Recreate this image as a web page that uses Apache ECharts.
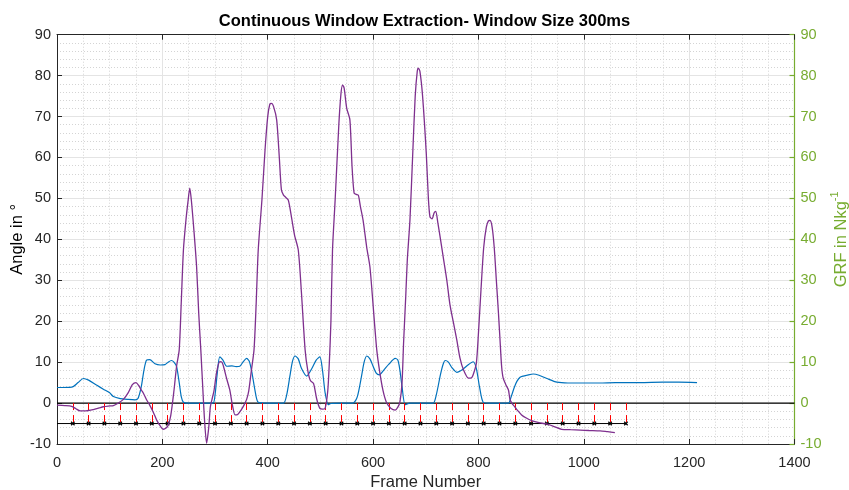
<!DOCTYPE html>
<html>
<head>
<meta charset="utf-8">
<script src="https://cdn.jsdelivr.net/npm/echarts@6/dist/echarts.min.js"></script>
<style>html,body{margin:0;padding:0;background:#fff}#chart{width:849px;height:490px}</style>
</head>
<body>
<div id="chart"></div>
<script>
// GRF (right axis) - frame numbers and values
const grfFrames = [0, 28, 40, 50, 60, 75, 88, 100, 107, 120, 135, 148, 154, 160, 165, 170, 176, 186, 196, 205, 211, 217, 222, 227, 232, 236, 240, 250, 270, 296, 300, 304, 309, 315, 322, 332, 340, 347, 354, 360, 365, 370, 376, 382, 400, 430, 436, 442, 447, 452, 458, 464, 474, 484, 492, 499, 504, 509, 515, 520, 540, 562, 570, 578, 583, 588, 594, 600, 606, 612, 620, 630, 642, 647, 651, 655, 661, 670, 690, 714, 720, 728, 733, 737, 743, 750, 759, 770, 780, 790, 796, 802, 809, 820, 840, 857, 862, 868, 873, 879, 885, 892, 904, 915, 930, 949, 970, 1000, 1030, 1060, 1107, 1150, 1180, 1215];
const grfValues = [3.8, 3.9, 5.0, 6.0, 5.6, 4.4, 3.4, 2.5, 1.6, 1.1, 0.9, 0.8, 1.2, 4, 8, 10.5, 10.6, 9.6, 9.3, 9.4, 10.0, 10.4, 10.0, 8.9, 5, 1.5, 0.2, 0, 0, 0, 2, 7, 11.3, 10.5, 9.0, 9.1, 8.9, 9.0, 10.2, 10.9, 10.2, 7.5, 3, 0.2, 0, 0, 2, 6.5, 10.2, 11.5, 10.8, 8.5, 6.6, 8.5, 10.5, 11.3, 8, 2.5, -0.4, -0.1, 0, 0, 1.5, 6.5, 10, 11.5, 10.8, 9, 7.3, 6.9, 8, 9.5, 10.9, 10.5, 8, 4, -0.4, 0, 0, 0, 2, 7, 9.5, 10.4, 10.0, 8.6, 7.5, 8.2, 9.3, 10.1, 8.5, 4, 0.2, 0, 0, 0, 1.5, 3.8, 5.3, 6.3, 6.6, 6.8, 7.1, 6.8, 6.0, 5.1, 4.9, 4.9, 4.9, 5.0, 5.0, 5.1, 5.1, 5.0];

// Angle (left axis) - frame numbers and values
const angleFrames = [0, 15, 28, 36, 44, 55, 69, 80, 88, 100, 107, 115, 126, 135, 143, 150, 155, 160, 164, 170, 176, 183, 189, 196, 202, 207, 211, 216, 222, 227, 232, 236, 240, 245, 249, 252, 255, 260, 265, 269, 273, 277, 280, 284, 288, 291, 294, 298, 303, 309, 313, 316, 322, 328, 333, 338, 343, 350, 355, 360, 364, 369, 374, 378, 382, 389, 395, 400, 404, 407, 411, 417, 422, 426, 430, 433, 439, 445, 451, 458, 464, 471, 476, 481, 487, 493, 499, 504, 509, 514, 517, 520, 523, 528, 535, 539, 542, 545, 550, 556, 560, 564, 568, 572, 576, 581, 588, 594, 600, 607, 613, 619, 626, 634, 642, 647, 651, 655, 658, 662, 665, 670, 675, 680, 684, 686, 689, 694, 701, 705, 708, 712, 716, 719, 723, 728, 734, 740, 746, 752, 759, 765, 772, 781, 787, 790, 796, 800, 805, 810, 815, 819, 822, 826, 830, 834, 838, 841, 844, 847, 852, 857, 860, 865, 869, 875, 882, 890, 901, 915, 929, 945, 958, 975, 993, 1010, 1031, 1045, 1059];
const angleValues = [-0.5, -0.6, -0.8, -1.4, -1.9, -1.9, -1.6, -1.2, -0.9, -0.7, -0.6, -0.1, 0.9, 2.5, 4.5, 5.0, 4.3, 3.2, 2.4, 0.8, -0.5, -2.3, -4.1, -5.6, -6.4, -6.1, -5.4, -3, 3, 9, 13, 25, 37.4, 45, 49.6, 52.5, 49.6, 42, 33.3, 22, 13, 3, -4, -9.8, -6, -1, 0.8, 3, 7.5, 10.1, 10.0, 9, 6, 3.2, -0.5, -2.9, -2.8, -1.6, -0.5, 0.9, 3, 8, 13, 24, 37.4, 49.6, 62, 70, 73, 73.2, 72.5, 69.2, 60, 52.1, 50.8, 50.4, 49.6, 45.5, 41, 37.4, 27, 13, 8, 5.5, 4.8, 1, -1.3, -1.5, -1.3, 3, 10, 20, 37.4, 49.6, 68, 75.5, 77.7, 77, 72, 69.2, 58, 51.3, 51, 50.8, 48, 44.7, 38, 33.3, 24, 13, 7.3, 3, 0, -1.3, -1.7, -1, 0.3, 5, 15, 26, 35, 44.7, 60, 75, 81.2, 81.8, 81, 75, 61, 50, 45.5, 45, 46.5, 46.8, 44, 40, 35, 30, 24, 20, 15.4, 11, 8, 6.1, 6.2, 6.9, 9.7, 17, 28, 38, 43, 44.5, 44.6, 43, 38, 30, 22, 15.4, 9, 6.1, 4.5, 3.2, 0.8, -0.3, -0.9, -1.9, -2.9, -3.6, -4.3, -4.8, -5.1, -5.8, -6.4, -6.5, -6.6, -6.7, -6.8, -7.0, -7.2];

// Window boundaries (frames) marked along y = -5
const windowFrames = [30, 60, 90, 120, 150, 180, 210, 240, 270, 300, 330, 360, 390, 420, 450, 480, 510, 540, 570, 600, 630, 660, 690, 720, 750, 780, 810, 840, 870, 900, 930, 960, 990, 1020, 1050, 1080];
const windowLevel = -5;
const zeroLevel = 0;

const xTicks = { min: 0, max: 1400, interval: 200 };
const yTicks = { min: -10, max: 90, interval: 10 };

const FONT = 'Liberation Sans, Arial, Helvetica, sans-serif';
const DARK = '#262626';
const GREEN = '#77AC30';
const TICK_FS = 14.5;
const NAME_FS = 16.5;

const chart = echarts.init(document.getElementById('chart'), null, { renderer: 'canvas' });

const zip = (xs, ys) => xs.map((x, i) => [x, ys[i]]);
const plain = v => String(v);

const option = {
  animation: false,
  backgroundColor: '#fff',
  title: {
    text: 'Continuous Window Extraction- Window Size 300ms',
    left: 'center', top: 8,
    textStyle: { fontSize: NAME_FS, fontWeight: 'bold', color: '#000', fontFamily: FONT }
  },
  grid: { left: 57, right: 54.5, top: 34.7, bottom: 46, containLabel: false, outerBoundsMode: 'none' },
  xAxis: [
    {
      type: 'value', position: 'bottom', min: xTicks.min, max: xTicks.max, interval: xTicks.interval,
      name: 'Frame Number', nameLocation: 'middle', nameGap: 30, nameMoveOverlap: false,
      nameTextStyle: { fontSize: NAME_FS, color: DARK, fontFamily: FONT },
      axisLine: { show: true, onZero: false, lineStyle: { color: DARK, width: 1 } },
      axisTick: { show: true, inside: true, length: 5, lineStyle: { color: DARK } },
      axisLabel: { fontSize: TICK_FS, color: DARK, margin: 11, fontFamily: FONT, formatter: plain },
      splitLine: { show: true, lineStyle: { color: '#e4e4e4', width: 1 } },
      minorTick: { show: false, splitNumber: 4 },
      minorSplitLine: { show: true, lineStyle: { color: '#d4d4d4', width: 1, type: [1, 2] } }
    },
    {
      type: 'value', position: 'top', min: xTicks.min, max: xTicks.max, interval: xTicks.interval,
      axisLine: { show: true, onZero: false, lineStyle: { color: DARK, width: 1 } },
      axisTick: { show: true, inside: true, length: 5, lineStyle: { color: DARK } },
      axisLabel: { show: false },
      splitLine: { show: false }
    }
  ],
  yAxis: [
    {
      type: 'value', position: 'left', min: yTicks.min, max: yTicks.max, interval: yTicks.interval,
      name: 'Angle in \u00B0', nameLocation: 'middle', nameGap: 31, nameRotate: 90, nameMoveOverlap: false,
      nameTextStyle: { fontSize: NAME_FS, color: '#000', fontFamily: FONT },
      axisLine: { show: true, onZero: false, lineStyle: { color: DARK, width: 1 } },
      axisTick: { show: true, inside: true, length: 5, lineStyle: { color: DARK } },
      axisLabel: { fontSize: TICK_FS, color: DARK, margin: 6, fontFamily: FONT, formatter: plain },
      splitLine: { show: true, lineStyle: { color: '#e4e4e4', width: 1 } },
      minorTick: { show: false, splitNumber: 5 },
      minorSplitLine: { show: true, lineStyle: { color: '#d4d4d4', width: 1, type: [1, 2] } }
    },
    {
      type: 'value', position: 'right', min: yTicks.min, max: yTicks.max, interval: yTicks.interval,
      name: '{a|GRF in Nkg}{b|-1}', nameLocation: 'middle', nameGap: 35, nameRotate: 90, nameMoveOverlap: false,
      nameTextStyle: {
        fontSize: NAME_FS, color: GREEN, fontFamily: FONT,
        rich: {
          a: { fontSize: NAME_FS, color: GREEN, fontFamily: FONT, lineHeight: 20, verticalAlign: 'bottom' },
          b: { fontSize: 11, color: GREEN, fontFamily: FONT, lineHeight: 20, verticalAlign: 'top' }
        }
      },
      axisLine: { show: true, onZero: false, lineStyle: { color: GREEN, width: 1.2 } },
      axisTick: { show: true, inside: true, length: 5, lineStyle: { color: GREEN, width: 1.2 } },
      axisLabel: { fontSize: TICK_FS, color: GREEN, margin: 6, fontFamily: FONT, formatter: plain },
      splitLine: { show: false }
    }
  ],
  series: [
    {
      name: 'zero', type: 'line', xAxisIndex: 0, yAxisIndex: 0, silent: true,
      data: [[xTicks.min, zeroLevel], [xTicks.max, zeroLevel]],
      symbol: 'none', lineStyle: { color: '#000', width: 1.2 }, z: 2
    },
    {
      name: 'windows', type: 'line', xAxisIndex: 0, yAxisIndex: 0, silent: true,
      data: [[0, windowLevel]].concat(windowFrames.map(f => [f, windowLevel])),
      symbol: (v) => v[0] === 0 ? 'none' : 'path://M0,0L10,10M0,10L10,0',
      symbolSize: 3.5, showSymbol: true,
      itemStyle: { color: 'rgba(0,0,0,0)', borderColor: '#000', borderWidth: 1.2 },
      lineStyle: { color: '#000', width: 1 },
      markLine: {
        silent: true, symbol: 'none', animation: false,
        label: { show: false },
        lineStyle: { color: '#ff0000', width: 1, type: [7, 5], opacity: 1 },
        data: windowFrames.map(f => [{ coord: [f, zeroLevel] }, { coord: [f, windowLevel] }])
      },
      z: 3
    },
    {
      name: 'GRF', type: 'line', xAxisIndex: 0, yAxisIndex: 1,
      data: zip(grfFrames, grfValues), smooth: 0.25, symbol: 'none',
      lineStyle: { color: '#0072BD', width: 1.2 }, z: 4
    },
    {
      name: 'Angle', type: 'line', xAxisIndex: 0, yAxisIndex: 0,
      data: zip(angleFrames, angleValues), smooth: 0.25, symbol: 'none',
      lineStyle: { color: '#7E2F8E', width: 1.3 }, z: 5
    }
  ]
};
chart.setOption(option);
</script>
</body>
</html>
